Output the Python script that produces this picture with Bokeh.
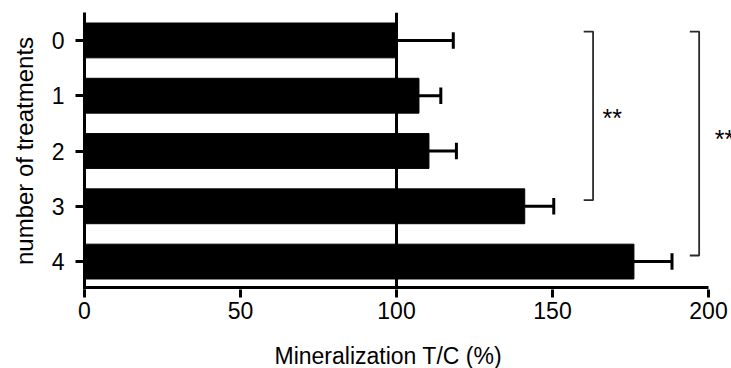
from bokeh.plotting import figure
from bokeh.models import Range1d, FixedTicker, Span, Title
from bokeh.embed import file_html
from bokeh.resources import INLINE

# data
categories = [0, 1, 2, 3, 4]
means = [100.0, 107.2, 110.4, 141.1, 176.1]
errors = [18.2, 7.0, 8.8, 9.3, 12.2]
x_ticks = [0, 50, 100, 150, 200]
x_axis_end = 200
sig_labels = ["**", "**"]
x_title = "Mineralization T/C (%)"
y_title = "number of treatments"

FONT = "Liberation Sans"

p = figure(width=731, height=368, output_backend="svg", toolbar_location=None,
           x_range=Range1d(0, 207.37), y_range=Range1d(4.505, -0.505),
           min_border_left=84, min_border_right=0, min_border_top=12, min_border_bottom=78)
p.outline_line_color = None
p.grid.grid_line_color = None
p.background_fill_color = "white"

# bars
p.hbar(y=categories, left=0, right=means, height=0.63, fill_color="black", line_color="black")

# error bars
upper = [m + e for m, e in zip(means, errors)]
p.segment(x0=means, y0=categories, x1=upper, y1=categories, line_color="black", line_width=3)
p.segment(x0=upper, y0=[c - 0.15 for c in categories], x1=upper, y1=[c + 0.15 for c in categories],
          line_color="black", line_width=3)

# reference line at 100 %
p.add_layout(Span(location=100, dimension="height", line_color="black", line_width=3))

# x axis line (ends at 200)
AXIS_Y = 4.47
p.segment(x0=[0], y0=[AXIS_Y], x1=[x_axis_end], y1=[AXIS_Y], line_color="black", line_width=3)

# significance brackets
brackets = [(0, 3, 160.0, 163.0, 3.0, 0.036), (0, 4, 194.0, 197.0, 5.0, -0.085)]
for (a, b, xi, xo, gap, dy), lab in zip(brackets, sig_labels):
    ya, yb = a - 0.16, b - 0.11
    p.line([xi, xo, xo, xi], [ya, ya, yb, yb], line_color="#2a2a2a", line_width=1.8)
    p.text(x=[xo + gap], y=[(ya + yb) / 2 + dy], text=[lab], text_font_size="25px",
           text_color="black", text_baseline="middle", text_align="left",
           text_font={"value": FONT})

# axes
p.xaxis.ticker = FixedTicker(ticks=x_ticks)
p.yaxis.ticker = FixedTicker(ticks=categories)
for ax in (p.xaxis[0], p.yaxis[0]):
    ax.axis_line_width = 3
    ax.axis_line_color = "black"
    ax.major_tick_line_width = 3
    ax.major_tick_line_color = "black"
    ax.major_tick_out = 9
    ax.major_tick_in = 0
    ax.minor_tick_line_color = None
    ax.major_label_text_font = FONT
    ax.major_label_text_font_size = "23px"
    ax.major_label_text_color = "black"
    ax.axis_label_text_font = FONT
    ax.axis_label_text_font_style = "normal"
    ax.axis_label_text_color = "black"
p.xaxis.axis_line_color = None
p.xaxis.major_tick_out = 8
p.xaxis.major_label_standoff = 4

p.yaxis.axis_label = y_title
p.yaxis.axis_label_text_font_size = "24px"
p.yaxis.major_label_standoff = 11
p.yaxis.axis_label_standoff = 11

# spacer, then x axis title placed like the original (left-aligned offset)
p.add_layout(Title(text=" ", text_font_size="7px"), "below")
p.add_layout(Title(text=x_title, align="left", offset=190, text_font=FONT,
                   text_font_size="23px", text_font_style="normal", text_color="black",
                   standoff=0), "below")

open("out.html", "w").write(file_html(p, INLINE))
